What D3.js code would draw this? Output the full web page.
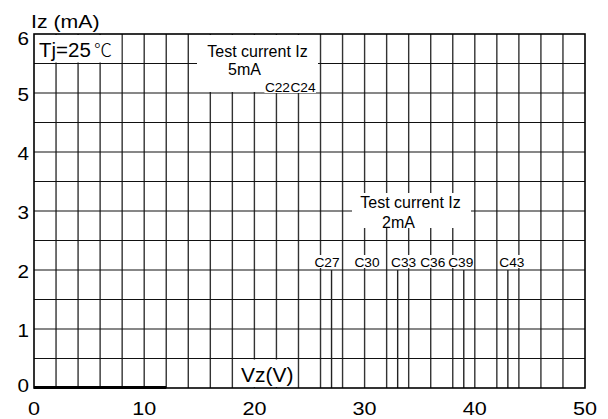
<!DOCTYPE html>
<html>
<head>
<meta charset="utf-8">
<script src="https://cdn.jsdelivr.net/npm/d3@7"></script>
<style>
  body { margin: 0; background: #fff; }
  text { font-family: "Liberation Sans", Arial, Helvetica, sans-serif; fill: #000; }
</style>
</head>
<body>
<div id="chart"></div>
<script>
// axis ticks
const vzTicks = [0, 10, 20, 30, 40, 50];
const izTicks = [0, 1, 2, 3, 4, 5, 6];

// zener curves, grouped by test current
const names5mA = ["C22", "C24"];
const vz5mA = [22, 24];
const izTop5mA = 5.0;

const names2mA = ["C27", "C30", "C33", "C36", "C39", "C43"];
const vz2mA = [27, 30, 33, 36, 39, 43];
const izTop2mA = 2.0;

// low voltage leakage along the baseline
const leakVz = [0, 12];

const width = 608;
const height = 419;

const svg = d3
  .select("#chart")
  .append("svg")
  .attr("width", width)
  .attr("height", height);

const x = d3.scaleLinear().domain([0, 50]).range([34, 585]);
const y = d3.scaleLinear().domain([0, 6]).range([388, 34]);

// grid: every 2 V and every 0.5 mA
const grid = svg.append("g");
grid
  .selectAll("line.v")
  .data(d3.range(2, 50, 2))
  .join("line")
  .attr("x1", (d) => x(d))
  .attr("x2", (d) => x(d))
  .attr("y1", y(0))
  .attr("y2", y(6))
  .attr("stroke", "#333")
  .attr("stroke-width", 1.4);
grid
  .selectAll("line.h")
  .data(d3.range(0.5, 6, 0.5))
  .join("line")
  .attr("x1", x(0))
  .attr("x2", x(50))
  .attr("y1", (d) => y(d))
  .attr("y2", (d) => y(d))
  .attr("stroke", "#111")
  .attr("stroke-width", 1.2);

// curves (the even ones sit on grid lines)
const curves = vz5mA
  .map((v) => ({ v, top: izTop5mA }))
  .concat(vz2mA.map((v) => ({ v, top: izTop2mA })))
  .filter((d) => d.v % 2 !== 0);
svg
  .append("g")
  .selectAll("line")
  .data(curves)
  .join("line")
  .attr("x1", (d) => x(d.v))
  .attr("x2", (d) => x(d.v))
  .attr("y1", y(0))
  .attr("y2", (d) => y(d.top))
  .attr("stroke", "#222")
  .attr("stroke-width", 1.4);

svg
  .append("line")
  .attr("x1", x(leakVz[0]))
  .attr("x2", x(leakVz[1]))
  .attr("y1", y(0) - 0.5)
  .attr("y2", y(0) - 0.5)
  .attr("stroke", "#000")
  .attr("stroke-width", 3);

// white boxes behind annotations
const whiteBox = (x0, y0, x1, y1) =>
  svg
    .append("rect")
    .attr("x", x0)
    .attr("y", y0)
    .attr("width", x1 - x0)
    .attr("height", y1 - y0)
    .attr("fill", "#fff");

whiteBox(x(0) + 1, y(6) + 1, x(8) - 1, y(5.5) - 1);
whiteBox(197, y(6) + 1, 318, 80);
whiteBox(197, 80, 318, y(5) - 1);
whiteBox(352, 193, 471, 228);
whiteBox(236, y(0.5) + 1, 296, y(0) - 1);

// frame
svg
  .append("rect")
  .attr("x", x(0))
  .attr("y", y(6))
  .attr("width", x(50) - x(0))
  .attr("height", y(0) - y(6))
  .attr("fill", "none")
  .attr("stroke", "#000")
  .attr("stroke-width", 1.6);

// tick labels (the source font is a bit wide)
svg
  .append("g")
  .selectAll("text")
  .data(vzTicks)
  .join("text")
  .attr("transform", (d) => `translate(${x(d)},415) scale(1.2,1)`)
  .attr("text-anchor", "middle")
  .style("font-size", "18px")
  .text((d) => d);

svg
  .append("g")
  .selectAll("text")
  .data(izTicks)
  .join("text")
  .attr("transform", (d) => `translate(29,${y(d) + (d === 6 ? 11 : d === 0 ? 4 : 8)}) scale(1.15,1)`)
  .attr("text-anchor", "end")
  .style("font-size", "18px")
  .text((d) => d);

svg
  .append("text")
  .attr("transform", "translate(31,28) scale(1.15,1)")
  .style("font-size", "18.5px")
  .text("Iz (mA)");

svg
  .append("text")
  .attr("x", 241)
  .attr("y", 382)
  .style("font-size", "21px")
  .text("Vz(V)");

// Tj label
svg
  .append("text")
  .attr("x", 39)
  .attr("y", 57)
  .style("font-size", "20.5px")
  .text("Tj=25");
svg
  .append("text")
  .attr("x", 94)
  .attr("y", 57)
  .style("font-family", "'Noto Sans CJK SC', sans-serif")
  .style("font-weight", 300)
  .style("font-size", "18px")
  .text("℃");

// test current notes
const note = (cx, lines, baselines) =>
  lines.forEach((t, i) =>
    svg
      .append("text")
      .attr("x", cx[i])
      .attr("y", baselines[i])
      .attr("text-anchor", "middle")
      .style("font-size", "16px")
      .text(t)
  );
note([257.5, 244.5], ["Test current Iz", "5mA"], [57, 75]);
note([410.5, 398.5], ["Test current Iz", "2mA"], [208, 228]);

// curve names, nudged as in the original sheet
const nudge = { C22: 1, C24: 4.5, C27: -4.5, C30: 2.4, C33: 6, C36: 2, C39: -3, C43: 4 };
const labels = names5mA
  .map((n, i) => ({ n, v: vz5mA[i], base: y(5) - 1 }))
  .concat(names2mA.map((n, i) => ({ n, v: vz2mA[i], base: 267 })));

const labelG = svg.append("g");
labelG
  .selectAll("rect")
  .data(labels)
  .join("rect")
  .attr("x", (d) => x(d.v) + nudge[d.n] - 13)
  .attr("y", (d) => d.base - 12)
  .attr("width", 26)
  .attr("height", 13)
  .attr("fill", "#fff");
labelG
  .selectAll("text")
  .data(labels)
  .join("text")
  .attr("x", (d) => x(d.v) + nudge[d.n])
  .attr("y", (d) => d.base)
  .attr("text-anchor", "middle")
  .style("font-size", "13.7px")
  .text((d) => d.n);
</script>
</body>
</html>
